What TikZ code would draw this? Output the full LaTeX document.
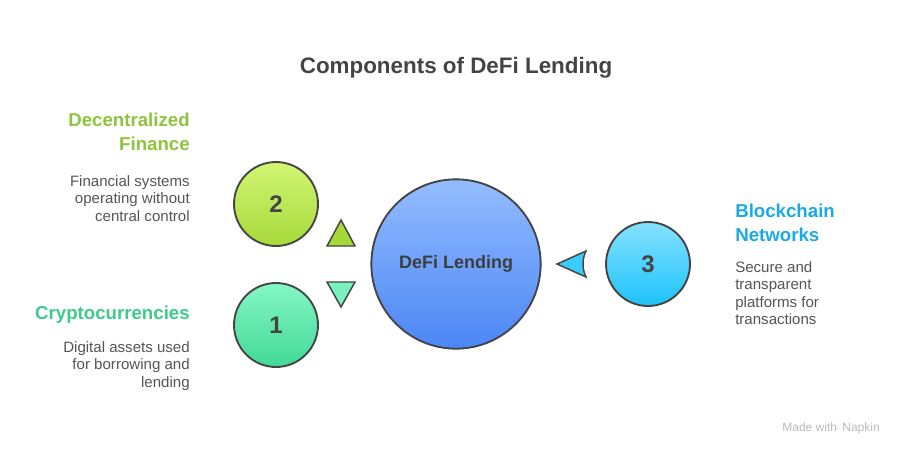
\documentclass[tikz,border=0pt]{standalone}
\usepackage{fontspec}
\setmainfont{Liberation Sans}
\usepackage{xcolor}
\usetikzlibrary{positioning,calc}

\definecolor{ink}{HTML}{444444}
\definecolor{txtgray}{HTML}{555555}
\definecolor{limeA}{HTML}{D2F775}
\definecolor{limeB}{HTML}{A6D83A}
\definecolor{limeT}{HTML}{8CC43C}
\definecolor{mintA}{HTML}{84F7C6}
\definecolor{mintB}{HTML}{42D995}
\definecolor{mintT}{HTML}{3CCB8B}
\definecolor{blueA}{HTML}{94BCFF}
\definecolor{blueB}{HTML}{4A86F5}
\definecolor{cyanA}{HTML}{86E2FF}
\definecolor{cyanB}{HTML}{1CC2FA}
\definecolor{cyanT}{HTML}{1AAAE0}

\begin{document}
\begin{tikzpicture}[
x=0.75pt, y=-0.75pt,
ball/.style={circle, draw=ink, line width=1.4pt, minimum size=63pt, inner sep=0pt,
  font=\bfseries\fontsize{18}{18}\selectfont, text=ink},
hub/.style={ball, minimum size=127pt, font=\bfseries\fontsize{13.5}{13.5}\selectfont, text=ink!90!black},
head/.style={inner sep=0pt, font=\bfseries\fontsize{14}{18}\selectfont},
desc/.style={inner sep=0pt, text=txtgray, font=\fontsize{11.3}{13.2}\selectfont},
tri/.style={draw=ink, line width=1.1pt, line join=miter}
]
\useasboundingbox (0,0) rectangle (912,457);

\node[inner sep=0pt, text=ink, font=\bfseries\fontsize{16.8}{16.8}\selectfont] (title) at (456,68) {Components of DeFi Lending};

% circles
\node[hub, top color=blueA, bottom color=blueB] (lending) at (456,264) {DeFi Lending};
\node[ball, top color=limeA, bottom color=limeB] (two) at (276,204) {2};
\node[ball, top color=mintA, bottom color=mintB] (one) at (276,325) {1};
\node[ball, top color=cyanA, bottom color=cyanB] (three) at (648,264) {3};

% pointers
\draw[tri, fill=limeB] (327,246) -- (355,246) -- (341,220) -- cycle;
\draw[tri, fill=mintA!85!mintB] (327,282) -- (355,282) -- (341,307) -- cycle;
\draw[tri, fill=cyanB!70!cyanA] (557,264) -- (586,251) .. controls (582,259) and (582,269) .. (586,277) -- cycle;

% labels
\node[head, text=limeT, align=right, anchor=north east] (defiHead) at (190,113) {Decentralized\\Finance};
\node[desc, align=right, anchor=north east] (defiDesc) at (190,175) {Financial systems\\operating without\\central control};

\node[head, text=mintT, align=right, anchor=north east] (cryptoHead) at (190,306) {Cryptocurrencies};
\node[desc, align=right, anchor=north east] (cryptoDesc) at (190,341) {Digital assets used\\for borrowing and\\lending};

\node[head, text=cyanT, align=left, anchor=north west] (chainHead) at (735,204) {Blockchain\\Networks};
\node[desc, align=left, anchor=north west] (chainDesc) at (735,261) {Secure and\\transparent\\platforms for\\transactions};

\node[inner sep=0pt, text=gray!55, font=\fontsize{9}{9}\selectfont, anchor=east] (napkin) at (880,428) {Made with \,Napkin};
\end{tikzpicture}
\end{document}
